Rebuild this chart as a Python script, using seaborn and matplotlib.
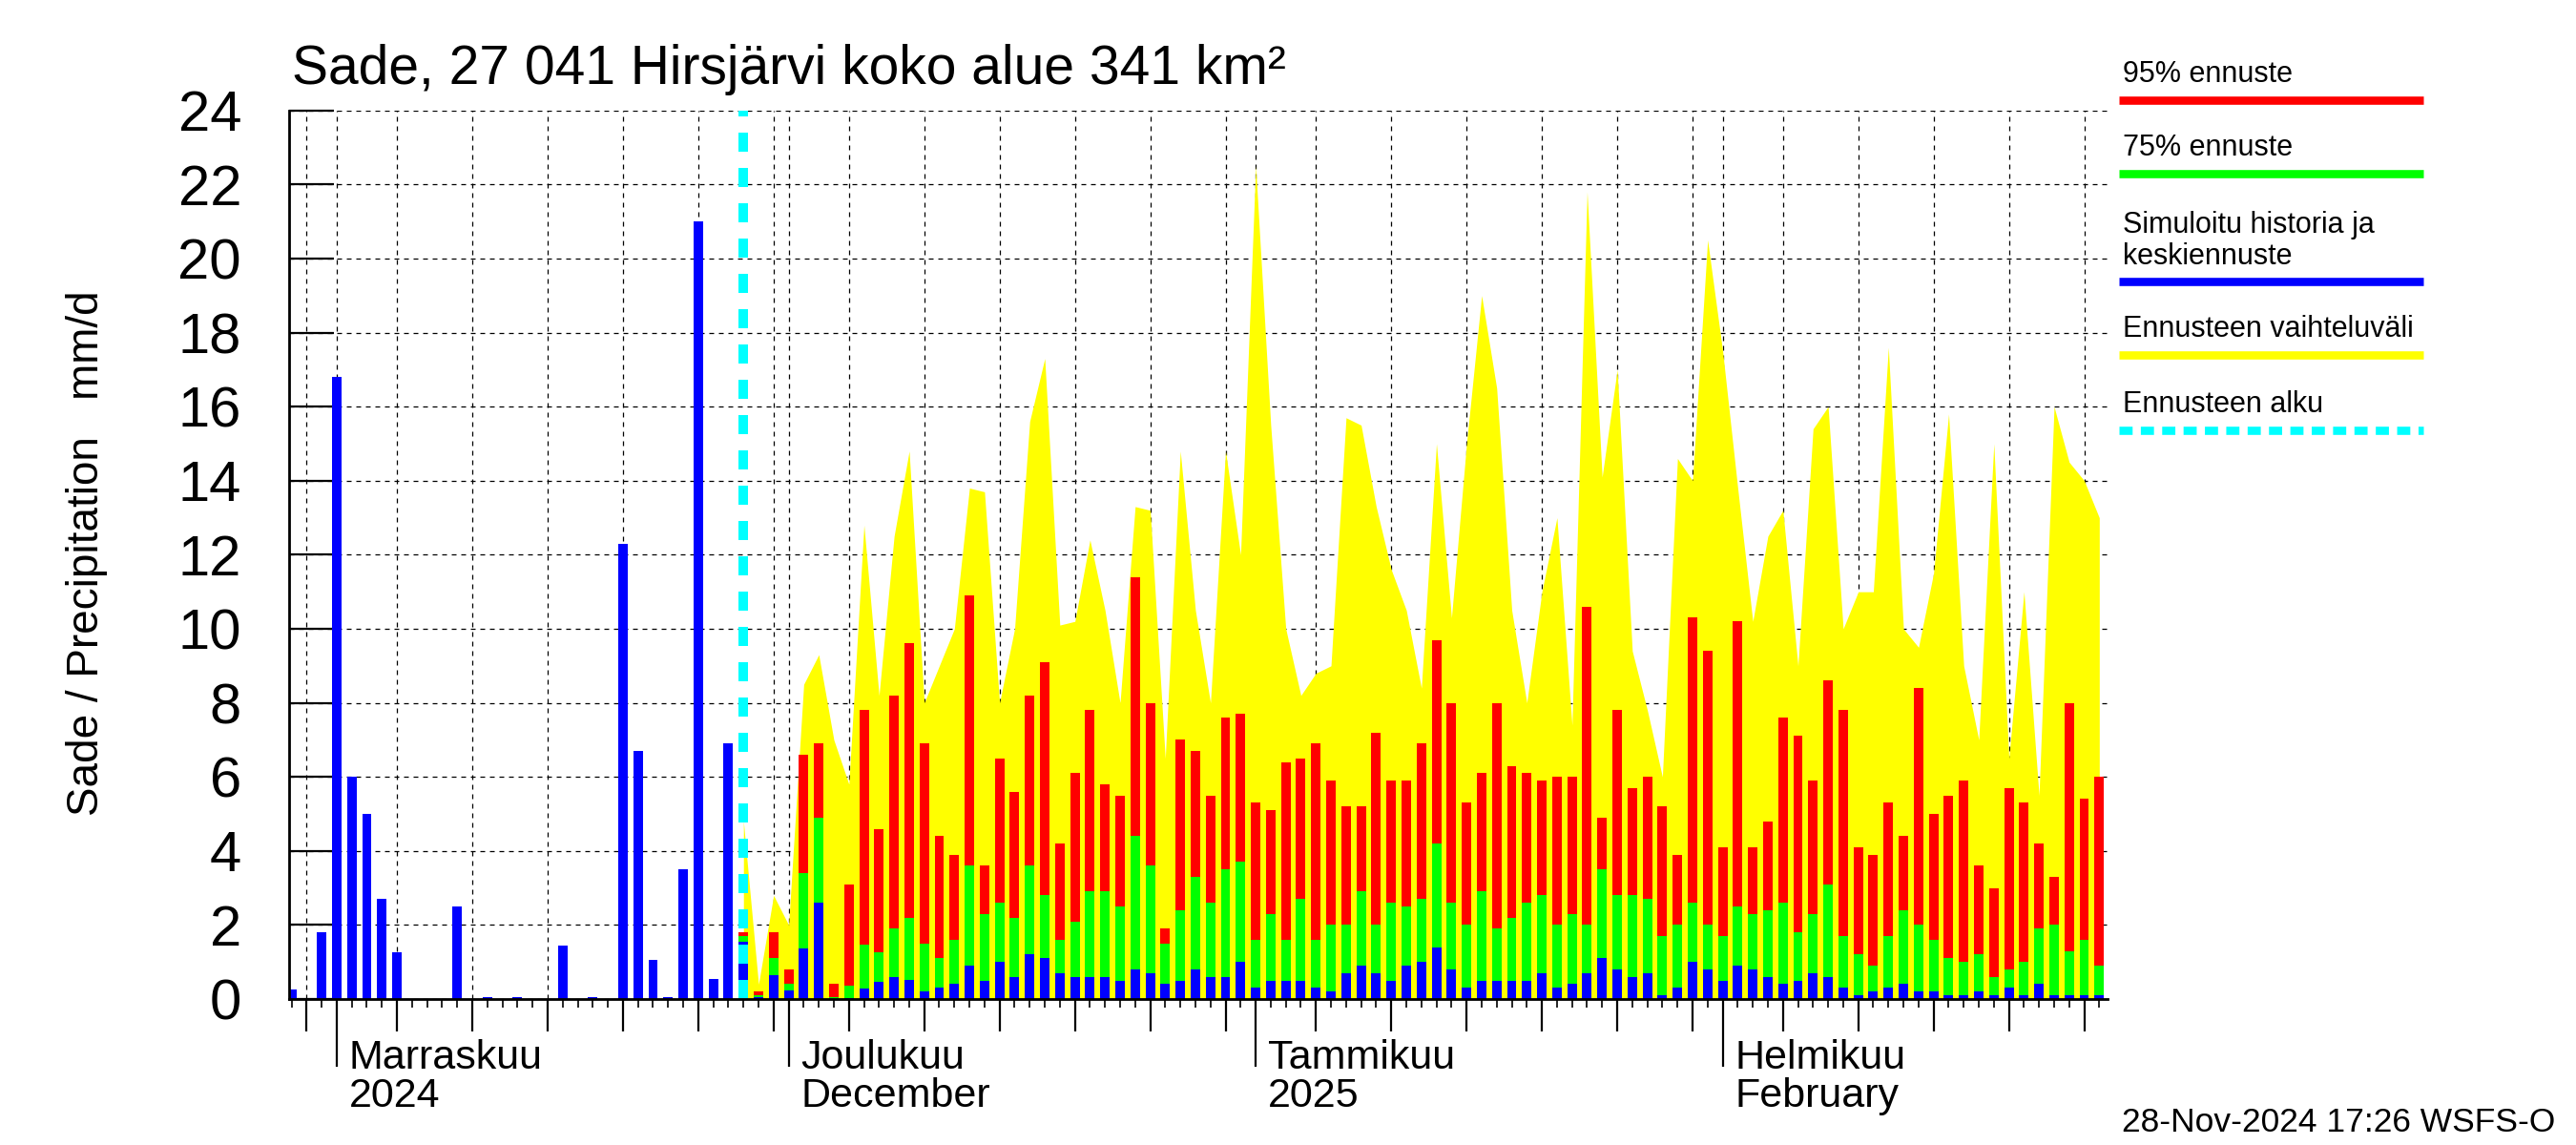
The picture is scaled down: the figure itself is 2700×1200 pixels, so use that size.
import numpy as np
import pandas as pd
import matplotlib
matplotlib.use("Agg")
import matplotlib.pyplot as plt
import matplotlib.dates as mdates
import matplotlib.transforms as mtransforms
import seaborn as sns

# ---------------- data ----------------
hist_start = "2024-10-29"
hist_precip = [0.25, 0.0, 1.8, 16.8, 6.0, 5.0, 2.7, 1.25, 0.0, 0.0,
               0.0, 2.5, 0.0, 0.05, 0.0, 0.05, 0.0, 0.0, 1.45, 0.0,
               0.05, 0.0, 12.3, 6.7, 1.05, 0.05, 3.5, 21.0, 0.55, 6.9]

fc_start = "2024-11-28"
fc_max = [4.8, 0.4, 2.8, 2.0, 8.5, 9.3, 7.0, 5.8, 12.8, 8.2,
          12.5, 14.8, 8.0, 9.0, 10.0, 13.8, 13.7, 8.0, 10.0, 15.6,
          17.3, 10.1, 10.2, 12.4, 10.5, 8.0, 13.3, 13.2, 6.5, 14.8,
          10.5, 8.0, 14.8, 12.0, 22.5, 15.5, 10.0, 8.2, 8.8, 9.0,
          15.7, 15.5, 13.3, 11.6, 10.5, 8.4, 15.0, 10.3, 15.0, 19.0,
          16.5, 10.5, 8.0, 11.0, 13.0, 7.4, 21.8, 14.1, 17.0, 9.4,
          7.8, 6.0, 14.6, 14.0, 20.5, 17.5, 13.8, 10.2, 12.5, 13.2,
          9.0, 15.4, 16.0, 10.0, 11.0, 11.0, 17.6, 10.0, 9.5, 11.5,
          15.8, 9.0, 7.0, 15.0, 6.5, 11.0, 5.5, 16.0, 14.5, 14.0, 13.0]
fc_p95 = [1.8, 0.2, 1.8, 0.8, 6.6, 6.9, 0.4, 3.1, 7.8, 4.6,
          8.2, 9.6, 6.9, 4.4, 3.9, 10.9, 3.6, 6.5, 5.6, 8.2,
          9.1, 4.2, 6.1, 7.8, 5.8, 5.5, 11.4, 8.0, 1.9, 7.0,
          6.7, 5.5, 7.6, 7.7, 5.3, 5.1, 6.4, 6.5, 6.9, 5.9,
          5.2, 5.2, 7.2, 5.9, 5.9, 6.9, 9.7, 8.0, 5.3, 6.1,
          8.0, 6.3, 6.1, 5.9, 6.0, 6.0, 10.6, 4.9, 7.8, 5.7,
          6.0, 5.2, 3.9, 10.3, 9.4, 4.1, 10.2, 4.1, 4.8, 7.6,
          7.1, 5.9, 8.6, 7.8, 4.1, 3.9, 5.3, 4.4, 8.4, 5.0,
          5.5, 5.9, 3.6, 3.0, 5.7, 5.3, 4.2, 3.3, 8.0, 5.4, 6.0]
fc_p75 = [1.7, 0.1, 1.1, 0.4, 3.4, 4.9, 0.05, 0.37, 1.47, 1.26,
          1.9, 2.2, 1.5, 1.1, 1.6, 3.6, 2.3, 2.6, 2.2, 3.6,
          2.8, 1.6, 2.1, 2.9, 2.9, 2.5, 4.4, 3.6, 1.5, 2.4,
          3.3, 2.6, 3.5, 3.7, 1.6, 2.3, 1.6, 2.7, 1.6, 2.0,
          2.0, 2.9, 2.0, 2.6, 2.5, 2.7, 4.2, 2.6, 2.0, 2.9,
          1.9, 2.2, 2.6, 2.8, 2.0, 2.3, 2.0, 3.5, 2.8, 2.8,
          2.7, 1.7, 2.0, 2.6, 2.0, 1.7, 2.5, 2.3, 2.4, 2.6,
          1.8, 2.3, 3.1, 1.7, 1.2, 0.9, 1.7, 2.4, 2.0, 1.6,
          1.1, 1.0, 1.2, 0.6, 0.8, 1.0, 1.9, 2.0, 1.3, 1.6, 0.9]
fc_median = [1.55, 0.05, 0.64, 0.23, 1.37, 2.6, 0.0, 0.02, 0.28, 0.46,
             0.6, 0.52, 0.2, 0.3, 0.4, 0.9, 0.5, 1.0, 0.6, 1.2,
             1.1, 0.7, 0.6, 0.6, 0.6, 0.5, 0.8, 0.7, 0.4, 0.5,
             0.8, 0.6, 0.6, 1.0, 0.3, 0.5, 0.5, 0.5, 0.3, 0.2,
             0.7, 0.9, 0.7, 0.5, 0.9, 1.0, 1.4, 0.8, 0.3, 0.5,
             0.5, 0.5, 0.5, 0.7, 0.3, 0.4, 0.7, 1.1, 0.8, 0.6,
             0.7, 0.1, 0.3, 1.0, 0.8, 0.5, 0.9, 0.8, 0.6, 0.4,
             0.5, 0.7, 0.6, 0.3, 0.1, 0.2, 0.3, 0.4, 0.2, 0.2,
             0.1, 0.1, 0.2, 0.1, 0.3, 0.1, 0.4, 0.1, 0.1, 0.1, 0.1]

month_starts = ["2024-11-01", "2024-12-01", "2025-01-01", "2025-02-01"]
month_labels = ["Marraskuu\n2024", "Joulukuu\nDecember", "Tammikuu\n2025", "Helmikuu\nFebruary"]
y_ticks = list(range(0, 25, 2))
title_text = "Sade, 27 041 Hirsjärvi koko alue 341 km²"
ylabel_text = "Sade / Precipitation   mm/d"
legend_texts = ["95% ennuste", "75% ennuste", "Simuloitu historia ja\nkeskiennuste",
                "Ennusteen vaihteluväli", "Ennusteen alku"]
footer_text = "28-Nov-2024 17:26 WSFS-O"

# ---------------- build frames ----------------
hist_dates = pd.date_range(hist_start, periods=len(hist_precip), freq="D")
fc_dates = pd.date_range(fc_start, periods=len(fc_max), freq="D")
hist_df = pd.DataFrame({"x": mdates.date2num(hist_dates), "v": hist_precip})
fc_df = pd.DataFrame({"x": mdates.date2num(fc_dates), "ymax": fc_max,
                      "p95": fc_p95, "p75": fc_p75, "med": fc_median})

sns.set_style("white")
plt.rcParams["font.family"] = ["Liberation Sans", "DejaVu Sans"]
plt.rcParams["text.color"] = "black"
plt.rcParams["axes.labelcolor"] = "black"
plt.rcParams["xtick.color"] = "black"
plt.rcParams["ytick.color"] = "black"

fig = plt.figure(figsize=(27, 12), dpi=100)
AX_L, AX_R, AX_T, AX_B = 303, 2209, 115.7, 1047
ax = fig.add_axes([AX_L / 2700, (1200 - AX_B) / 1200, (AX_R - AX_L) / 2700, (AX_B - AX_T) / 1200])

BLUE, RED, GREEN, YELLOW, CYAN = "#0000ff", "#ff0000", "#00ff00", "#ffff00", "#00ffff"

# yellow range area
ax.fill_between(fc_df["x"], 0, fc_df["ymax"], color=YELLOW, linewidth=0, zorder=1)

W = 0.63
sns.barplot(data=fc_df, x="x", y="p95", native_scale=True, color=RED, saturation=1,
            width=W, errorbar=None, linewidth=0, ax=ax, zorder=2)
sns.barplot(data=fc_df, x="x", y="p75", native_scale=True, color=GREEN, saturation=1,
            width=W, errorbar=None, linewidth=0, ax=ax, zorder=3)
sns.barplot(data=fc_df, x="x", y="med", native_scale=True, color=BLUE, saturation=1,
            width=W, errorbar=None, linewidth=0, ax=ax, zorder=4)
sns.barplot(data=hist_df, x="x", y="v", native_scale=True, color=BLUE, saturation=1,
            width=W, errorbar=None, linewidth=0, ax=ax, zorder=4)

fc_start_num = mdates.date2num(pd.Timestamp(fc_start))
ax.axvline(fc_start_num, color=CYAN, linewidth=7.2, linestyle=(0, (2.0, 1.7)),
           zorder=5, dash_capstyle="butt")

# axes limits
ax.set_xlim(mdates.date2num(pd.Timestamp(hist_start)) - 0.16,
            mdates.date2num(fc_dates[-1]) + 0.55)
ax.set_ylim(0, 24)
ax.set_xlabel("")
ax.set_ylabel("")

# y ticks
ax.set_yticks(y_ticks)
ax.set_yticklabels([str(t) for t in y_ticks], fontsize=43)
ax.tick_params(axis="y", direction="in", length=34, width=1.6, pad=36, left=True, right=False)

# x ticks: major = month starts + every 5th day (grid), minor = daily
ms = mdates.date2num(pd.to_datetime(month_starts))
all_days = pd.date_range(hist_start, fc_dates[-1], freq="D")
five_days = all_days[all_days.day.isin([5, 10, 15, 20, 25, 30])]
major_locs = np.sort(np.concatenate([ms, mdates.date2num(five_days)]))
ax.set_xticks(major_locs)
ax.set_xticklabels([""] * len(major_locs))
ax.set_xticks(mdates.date2num(all_days), minor=True)
ax.tick_params(axis="x", which="major", direction="out", width=1.6, bottom=True)
ax.tick_params(axis="x", which="minor", direction="out", length=6.5, width=1.2, bottom=True)

offset = mtransforms.ScaledTranslation(13 / 100, -42 / 100, fig.dpi_scale_trans)
trans = mtransforms.blended_transform_factory(ax.transData, ax.transAxes) + offset
for x, lab in zip(ms, month_labels):
    ax.text(x, 0, lab, transform=trans, ha="left", va="top", fontsize=31, linespacing=1.0)

# grid
ax.grid(True, which="major", axis="y", color="black", linestyle=(0, (4, 4)), linewidth=0.9)
ax.grid(True, which="major", axis="x", color="black", linestyle=(0, (4, 4)), linewidth=0.9)
ax.grid(False, which="minor", axis="x")
for gl in ax.get_xgridlines() + ax.get_ygridlines():
    gl.set_zorder(0.5)

for side in ["top", "right"]:
    ax.spines[side].set_visible(False)
for side in ["left", "bottom"]:
    ax.spines[side].set_visible(True)
    ax.spines[side].set_color("black")
    ax.spines[side].set_linewidth(2.0)
    ax.spines[side].set_zorder(6)

# title, ylabel, footer
fig.text(306 / 2700, 1 - 88 / 1200, title_text, fontsize=41, ha="left", va="baseline")
fig.text(91 / 2700, 1 - 580 / 1200, ylabel_text, fontsize=33, rotation=90, ha="center", va="center")
fig.text(2678 / 2700, 1 - 1176 / 1200, footer_text, fontsize=25.5, ha="right", va="center")

# legend (drawn in a pixel-coordinate overlay axes)
lax = fig.add_axes([0, 0, 1, 1], facecolor="none")
lax.set_xlim(0, 2700)
lax.set_ylim(1200, 0)
lax.axis("off")
leg_colors = [RED, GREEN, BLUE, YELLOW, CYAN]
leg_line_y = [105, 182, 295, 372, 451]
leg_text_y = [86, 163, 277, 353, 432]
for c, ly, ty, t in zip(leg_colors, leg_line_y, leg_text_y, legend_texts):
    ls = (0, (1.6, 1.0)) if c == CYAN else "-"
    lax.plot([2221, 2540], [ly, ly], color=c, linewidth=6.2, linestyle=ls, solid_capstyle="butt",
             dash_capstyle="butt")
    lax.text(2225, ty, t, fontsize=22, ha="left", va="baseline", linespacing=1.15)

# individual major tick lengths: long at month starts, medium at 5-day marks
month_set = set(np.round(ms, 3))
for loc, tick in zip(ax.get_xticks(), ax.xaxis.get_major_ticks()):
    tick.tick1line.set_markersize(51 if np.round(loc, 3) in month_set else 24.5)
    tick.tick1line.set_markeredgewidth(1.6)

fig.savefig("out.png", dpi=100)
